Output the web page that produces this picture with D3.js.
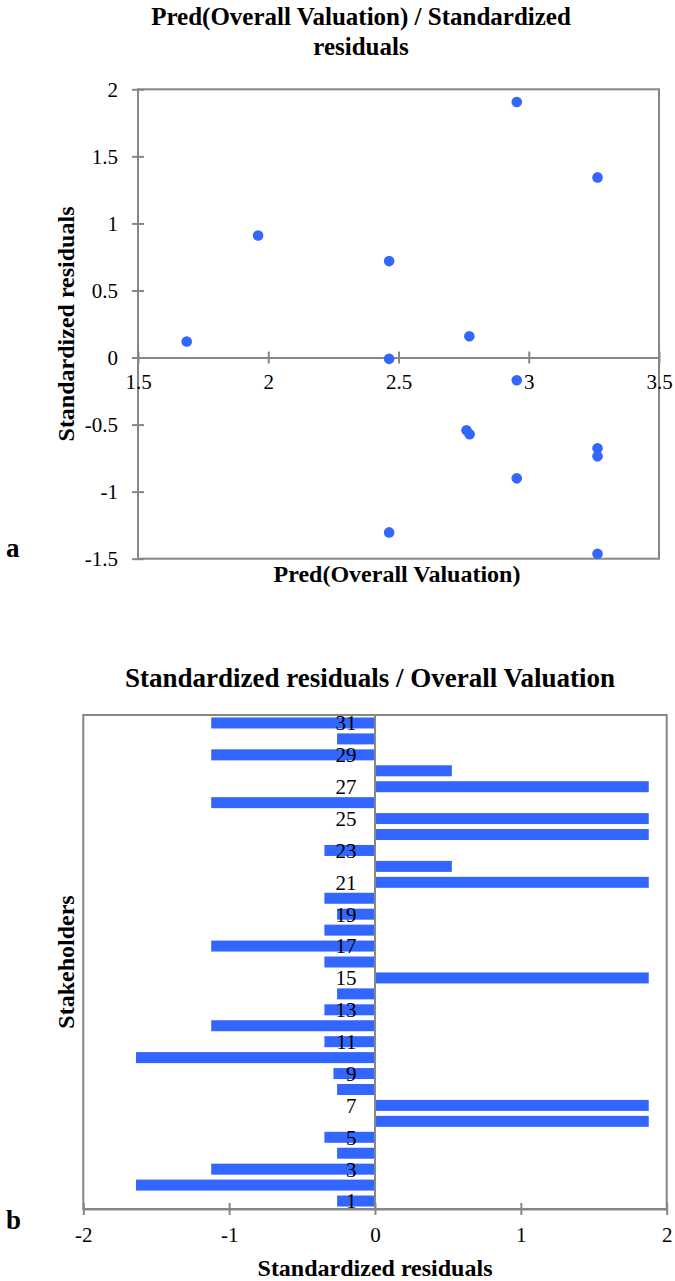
<!doctype html>
<html>
  <head>
    <meta charset="utf-8">
    <script src="https://cdnjs.cloudflare.com/ajax/libs/d3/7.8.5/d3.min.js"></script>
    <style>
      body { margin: 0; background: #fff; }
      svg { display: block; }
      text { font-family: "Liberation Serif", "DejaVu Serif", serif; fill: #000; }
      .title, .axis-title, .panel { font-weight: bold; }
      .frame { fill: none; stroke: #878787; stroke-width: 2px; }
      .axis path, .axis line { stroke: #878787; stroke-width: 2px; }
      .axis text { font-size: 21px; font-family: "Liberation Serif", serif; }
    </style>
  </head>
  <body>
    <svg id="chart" width="675" height="1281"></svg>
    <script>
      // panel a: predicted overall valuation vs standardized residual
      var predX = [1.687, 1.961, 2.464, 2.464, 2.464, 2.954, 3.264, 2.772, 2.954, 2.761, 2.773, 3.264, 3.264, 2.954, 3.264];
      var residY = [0.119, 0.910, 0.719, -0.01, -1.304, 1.905, 1.343, 0.159, -0.169, -0.543, -0.572, -0.677, -0.737, -0.901, -1.463];
      var xTicksA = [1.5, 2, 2.5, 3, 3.5];
      var yTicksA = [-1.5, -1, -0.5, 0, 0.5, 1, 1.5, 2];

      // panel b: standardized residual per stakeholder
      var stakeholders = d3.range(1, 32);
      var residB = [-0.26, -1.639, -1.123, -0.26, -0.347, 1.877, 1.877, -0.26, -0.285, -1.639,
                    -0.347, -1.123, -0.347, -0.26, 1.877, -0.347, -1.123, -0.347, -0.26, -0.347,
                    1.877, 0.527, -0.347, 1.877, 1.877, -1.123, 1.877, 0.527, -1.123, -0.26, -1.123];
      var xTicksB = [-2, -1, 0, 1, 2];
      var yLabelsB = [1, 3, 5, 7, 9, 11, 13, 15, 17, 19, 21, 23, 25, 27, 29, 31];

      var blue = "#3366ff";
      var fmt = d => String(d); // plain hyphen minus, like the original
      var svg = d3.select("#chart");

      // ---------- panel a ----------
      var a = { left: 138, right: 659, top: 89.3, bottom: 558.7 };
      var x = d3.scaleLinear().domain([1.5, 3.5]).range([a.left, a.right]);
      var y = d3.scaleLinear().domain([-1.5, 2]).range([a.bottom, a.top]);

      svg.append("text").attr("class", "title")
        .attr("x", 361).attr("y", 25).attr("text-anchor", "middle")
        .style("font-size", "25px")
        .text("Pred(Overall Valuation) / Standardized");
      svg.append("text").attr("class", "title")
        .attr("x", 361).attr("y", 55).attr("text-anchor", "middle")
        .style("font-size", "25px")
        .text("residuals");

      svg.append("rect").attr("class", "frame")
        .attr("x", a.left).attr("y", a.top)
        .attr("width", a.right - a.left).attr("height", a.bottom - a.top);

      svg.append("g").attr("class", "axis")
        .attr("transform", "translate(" + a.left + ",0)")
        .call(d3.axisLeft(y).tickValues(yTicksA).tickSizeInner(6).tickSizeOuter(0).tickPadding(14)
          .tickFormat(fmt))
        .call(g => g.selectAll(".tick line").attr("x2", 6).attr("x1", -6))
        .call(g => g.select(".domain").remove());

      svg.append("g").attr("class", "axis")
        .attr("transform", "translate(0," + y(0) + ")")
        .call(d3.axisBottom(x).tickValues(xTicksA).tickSizeOuter(0).tickPadding(11)
          .tickFormat(fmt))
        .call(g => g.selectAll(".tick line").attr("y1", -6).attr("y2", 6));

      svg.append("g")
        .selectAll("circle")
        .data(predX)
        .enter()
        .append("circle")
        .attr("cx", d => x(d))
        .attr("cy", (d, i) => y(residY[i]))
        .attr("r", 5.3)
        .attr("fill", blue);

      svg.append("text").attr("class", "axis-title")
        .attr("transform", "translate(74," + (a.top + a.bottom) / 2 + ") rotate(-90)")
        .attr("text-anchor", "middle").style("font-size", "24px")
        .text("Standardized residuals");
      svg.append("text").attr("class", "axis-title")
        .attr("x", 397).attr("y", 582).attr("text-anchor", "middle").style("font-size", "24px")
        .text("Pred(Overall Valuation)");
      svg.append("text").attr("class", "panel")
        .attr("x", 6).attr("y", 557).style("font-size", "27px").text("a");

      // ---------- panel b ----------
      var b = { left: 83.3, right: 666.7, top: 715, bottom: 1209 };
      var xb = d3.scaleLinear().domain([-2, 2]).range([b.left, b.right]);
      var yb = d3.scaleBand().domain(stakeholders.slice().reverse())
        .range([b.top, b.bottom]).paddingInner(0.31).paddingOuter(0.155);

      svg.append("text").attr("class", "title")
        .attr("x", 370).attr("y", 687).attr("text-anchor", "middle")
        .style("font-size", "27px")
        .text("Standardized residuals / Overall Valuation");

      svg.append("rect").attr("class", "frame")
        .attr("x", b.left).attr("y", b.top)
        .attr("width", b.right - b.left).attr("height", b.bottom - b.top);

      svg.append("g")
        .selectAll("rect")
        .data(residB)
        .enter()
        .append("rect")
        .attr("x", d => xb(Math.min(0, d)))
        .attr("width", d => Math.abs(xb(d) - xb(0)))
        .attr("y", (d, i) => yb(stakeholders[i]))
        .attr("height", yb.bandwidth())
        .attr("fill", blue);

      svg.append("line")
        .attr("x1", xb(0)).attr("x2", xb(0))
        .attr("y1", b.top).attr("y2", b.bottom)
        .attr("stroke", "#878787").attr("stroke-width", 2);

      svg.append("g").attr("class", "axis")
        .attr("transform", "translate(0," + b.bottom + ")")
        .call(d3.axisBottom(xb).tickValues(xTicksB).tickSizeOuter(0).tickPadding(12)
          .tickFormat(fmt))
        .call(g => g.selectAll(".tick line").attr("y1", -6).attr("y2", 6));

      // stakeholder numbers sit over the bars, right-aligned left of zero
      svg.append("g")
        .selectAll("text")
        .data(yLabelsB)
        .enter()
        .append("text")
        .attr("x", xb(0) - 18.5)
        .attr("y", d => yb(d) + yb.bandwidth() / 2)
        .attr("dy", "0.35em")
        .attr("text-anchor", "end")
        .style("font-size", "21px")
        .text(d => d);

      svg.append("text").attr("class", "axis-title")
        .attr("transform", "translate(74," + (b.top + b.bottom) / 2 + ") rotate(-90)")
        .attr("text-anchor", "middle").style("font-size", "24px")
        .text("Stakeholders");
      svg.append("text").attr("class", "axis-title")
        .attr("x", 375).attr("y", 1276).attr("text-anchor", "middle").style("font-size", "24px")
        .text("Standardized residuals");
      svg.append("text").attr("class", "panel")
        .attr("x", 6).attr("y", 1229).style("font-size", "27px").text("b");
    </script>
  </body>
</html>
